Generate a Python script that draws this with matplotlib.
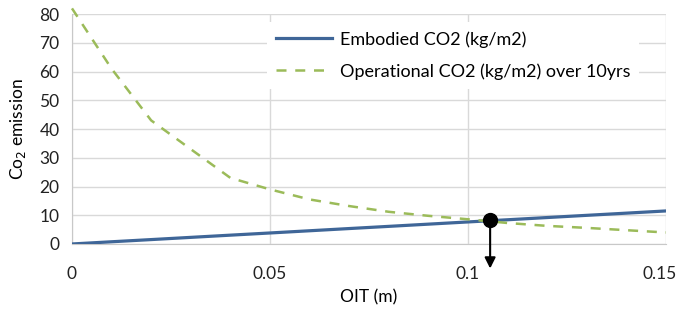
import matplotlib.pyplot as plt
import matplotlib.transforms as mtransforms

# data
oit = [0, 0.01, 0.02, 0.03, 0.04, 0.05, 0.06, 0.07, 0.08, 0.09, 0.10, 0.11, 0.12, 0.13, 0.14, 0.15]
embodied = [0, 0.77, 1.53, 2.3, 3.07, 3.83, 4.6, 5.37, 6.13, 6.9, 7.67, 8.43, 9.2, 9.97, 10.73, 11.5]
operational = [82, 61, 43, 33, 23, 19, 15.5, 13.2, 11.2, 9.8, 8.6, 7.3, 6.3, 5.6, 4.8, 4.0]
cross_x = 0.1056
cross_y = 8.5

plt.rcParams['font.family'] = ['Lato', 'DejaVu Sans']

fig = plt.figure(figsize=(6.81, 3.14), dpi=100)
ax = fig.add_axes([0.1057, 0.223, 0.8722, 0.732])

ax.plot(oit, embodied, color='#3f6698', lw=2.3, label='Embodied CO2 (kg/m2)', zorder=3)
ax.plot(oit, operational, color='#9bbb59', lw=1.8, ls=(0, (4, 3.5)),
        label='Operational CO2 (kg/m2) over 10yrs', zorder=3, clip_on=False)

ax.plot(cross_x, cross_y, 'o', color='black', ms=10, zorder=5, clip_on=False)
ax.annotate('', xy=(cross_x, -9.5), xytext=(cross_x, cross_y),
            arrowprops=dict(arrowstyle='-|>', color='black', lw=1.5, mutation_scale=16),
            annotation_clip=False, zorder=4)

ax.set_xlim(0, 0.15)
ax.set_ylim(0, 80)
ax.set_xticks([0, 0.05, 0.1, 0.15])
ax.set_xticklabels(['0', '0.05', '0.1', '0.15'])
ax.set_yticks(range(0, 81, 10))
ax.tick_params(axis='both', length=0, labelsize=12.5, colors='#222222')
ax.tick_params(axis='x', pad=16)
ax.tick_params(axis='y', pad=9)
ax.grid(True, color='#d9d9d9', lw=1)
ax.set_axisbelow(True)
for s in ['top', 'right']:
    ax.spines[s].set_visible(False)
ax.spines['left'].set_color('#c8c8c8')
ax.spines['bottom'].set_color('#c8c8c8')

# last x tick label sits at the figure edge, nudge it in so it is not cut
last = ax.get_xticklabels()[-1]
last.set_transform(last.get_transform() +
                   mtransforms.ScaledTranslation(-6 / 100, 0, fig.dpi_scale_trans))

ax.set_xlabel('OIT (m)', fontsize=12.5, labelpad=5)
ax.set_ylabel('Co$_2$ emission', fontsize=12.5, labelpad=8)

leg = ax.legend(loc='upper left', bbox_to_anchor=(0.328, 0.965), fontsize=13,
                frameon=True, fancybox=False, framealpha=1, edgecolor='none',
                handlelength=3.1, borderaxespad=0, labelspacing=0.85,
                borderpad=0.5, handletextpad=0.45)
leg.set_zorder(2)

plt.savefig('out.png', dpi=100)
